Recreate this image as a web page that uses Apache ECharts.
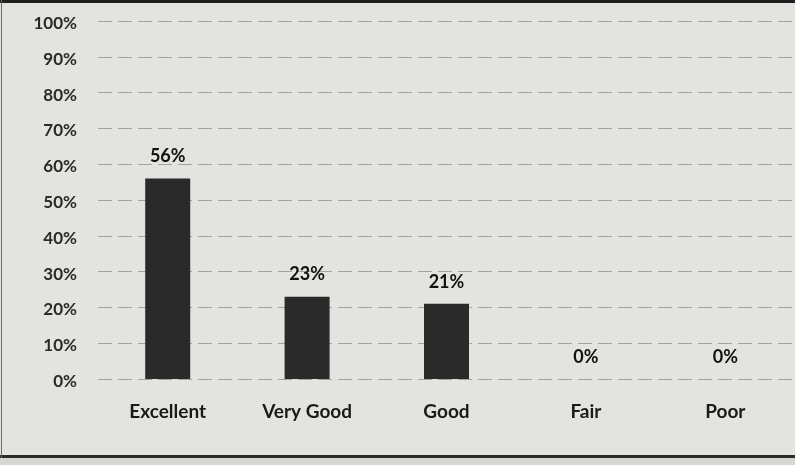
<!DOCTYPE html>
<html>
<head>
<meta charset="utf-8">
<script src="https://cdn.jsdelivr.net/npm/echarts@6/dist/echarts.min.js"></script>
<style>
  html, body { margin: 0; padding: 0; background: #e3e3df; }
  #chart { width: 795px; height: 465px; }
</style>
</head>
<body>
<div id="chart"></div>
<script>
// Survey rating distribution
var categories = ['Excellent', 'Very Good', 'Good', 'Fair', 'Poor'];
var shares = [56, 23, 21, 0, 0];
var yTicks = [0, 10, 20, 30, 40, 50, 60, 70, 80, 90, 100];

var chart = echarts.init(document.getElementById('chart'), null, { renderer: 'canvas' });

chart.setOption({
  backgroundColor: '#e3e3df',
  animation: false,
  grid: { left: 98, right: 0, top: 21, bottom: 86 },
  xAxis: {
    type: 'category',
    data: categories,
    axisLine: { show: false },
    axisTick: { show: false },
    axisLabel: {
      margin: 23,
      fontFamily: 'Lato',
      fontSize: 19,
      fontWeight: 'bold',
      color: '#1a1a1a'
    }
  },
  yAxis: {
    type: 'value',
    min: yTicks[0],
    max: yTicks[yTicks.length - 1],
    interval: 10,
    axisLine: { show: false },
    axisTick: { show: false },
    axisLabel: {
      margin: 21,
      fontFamily: 'Lato',
      fontSize: 17,
      fontWeight: 'bold',
      color: '#2a2a2a',
      verticalAlign: 'top',
      lineHeight: 17,
      padding: [-6, 0, 0, 0],
      formatter: function (v) { return v + '%'; }
    },
    splitLine: {
      lineStyle: { color: '#a2a29e', width: 1, type: [14, 6] }
    }
  },
  series: [{
    type: 'bar',
    data: shares,
    barWidth: 45,
    itemStyle: { color: '#2a2a2a' },
    label: {
      show: true,
      position: 'top',
      distance: 13,
      fontFamily: 'Lato',
      fontSize: 18,
      fontWeight: 'bold',
      color: '#111',
      formatter: function (p) { return p.value + '%'; }
    }
  }],
  graphic: [
    { type: 'rect', shape: { x: 0, y: 0, width: 795, height: 3 }, style: { fill: '#1e1e1e' } },
    { type: 'rect', shape: { x: 0, y: 455, width: 795, height: 3 }, style: { fill: '#2a2a2a' } },
    { type: 'rect', shape: { x: 1, y: 0, width: 1, height: 458 }, style: { fill: '#6a6a6a' } },
    { type: 'rect', shape: { x: 0, y: 458, width: 795, height: 7 }, style: { fill: '#d6d6d2' } }
  ]
});
</script>
</body>
</html>
